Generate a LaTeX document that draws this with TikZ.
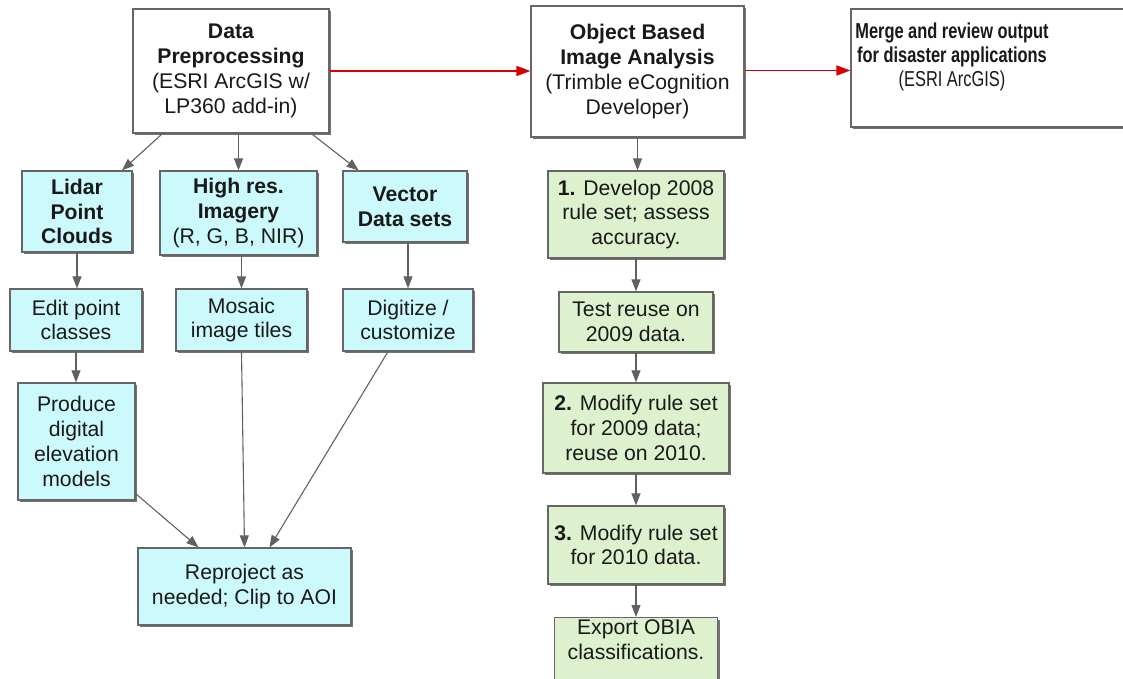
\documentclass[tikz,border=0pt]{standalone}
\usepackage{fontspec}
\setmainfont{Liberation Sans}
\newfontfamily\narrowfont[FakeStretch=0.76]{Liberation Sans}
\usetikzlibrary{arrows.meta,shadows,calc}

\definecolor{boxcyan}{RGB}{204,250,252}
\definecolor{boxgreen}{RGB}{221,241,207}
\definecolor{arrred}{RGB}{214,0,0}

\begin{document}
\begin{tikzpicture}[
  x=0.5pt, y=-0.5pt,
  box/.style={draw=black!60, line width=0.6pt, align=center, inner sep=1pt,
              font=\fontsize{10.6}{12.4}\selectfont, text=black!90, fill=#1,
              drop shadow={shadow xshift=1.1pt, shadow yshift=-1.1pt,
                           fill=black!55, opacity=1}},
  box/.default=white,
  arr/.style={-{Triangle[length=6pt, width=4.5pt]}, line width=0.55pt, draw=black!62},
  redarr/.style={-{Triangle[length=7pt, width=5pt]}, line width=0.8pt, draw=arrred}]
\useasboundingbox (0,0) rectangle (1123,679);
% top row
\node[box, minimum width=98pt, minimum height=62pt] (prep) at (231,71)
  {\textbf{Data}\\\textbf{Preprocessing}\\(ESRI ArcGIS w/\\LP360 add-in)};
\node[box, minimum width=106.5pt, minimum height=65.5pt] (obia) at (637.5,71.5)
  {\textbf{Object Based}\\\textbf{Image Analysis}\\(Trimble eCognition\\Developer)};
\node[box, minimum width=139.5pt, minimum height=59pt] (merge) at (990.5,68) {};
\node[align=center, font=\narrowfont\fontsize{10.8}{12.2}\selectfont, text=black!90] (mergetext) at (952,57)
  {\textbf{Merge and review output}\\\textbf{for disaster applications}\\(ESRI ArcGIS)};
% input data
\node[box=boxcyan, minimum width=55pt, minimum height=40.5pt] (lidar) at (77,211.5)
  {\textbf{Lidar}\\\textbf{Point}\\\textbf{Clouds}};
\node[box=boxcyan, minimum width=78.5pt, minimum height=42pt] (high) at (238.5,213)
  {\textbf{High res.}\\\textbf{Imagery}\\(R, G, B, NIR)};
\node[box=boxcyan, minimum width=62pt, minimum height=35.5pt] (vector) at (405,206.5)
  {\textbf{Vector}\\\textbf{Data sets}};
\node[box=boxcyan, minimum width=66pt, minimum height=31pt] (edit) at (76,320)
  {Edit point\\classes};
\node[box=boxcyan, minimum width=65.5pt, minimum height=31pt] (mosaic) at (241.5,320)
  {Mosaic\\image tiles};
\node[box=boxcyan, minimum width=65pt, minimum height=31pt] (digit) at (408,320)
  {Digitize /\\customize};
\node[box=boxcyan, minimum width=58.5pt, minimum height=58.5pt] (produce) at (76.5,441.5)
  {Produce\\digital\\elevation\\models};
\node[box=boxcyan, minimum width=106.5pt, minimum height=38.5pt] (reproj) at (244.5,586.5)
  {Reproject as\\needed; Clip to AOI};
% OBIA steps
\node[box=boxgreen, minimum width=88pt, minimum height=43.5pt] (g1) at (636,214.5)
  {\textbf{1.} Develop 2008\\rule set; assess\\accuracy.};
\node[box=boxgreen, minimum width=77pt, minimum height=30pt] (test) at (636,322)
  {Test reuse on\\2009 data.};
\node[box=boxgreen, minimum width=93pt, minimum height=45pt] (mod2) at (636,428)
  {\textbf{2.} Modify rule set\\for 2009 data;\\reuse on 2010.};
\node[box=boxgreen, minimum width=88pt, minimum height=39pt] (mod3) at (636,545)
  {\textbf{3.} Modify rule set\\for 2010 data.};
\node[box=boxgreen, minimum width=81.5pt, anchor=north] (export) at (636,617)
  {Export OBIA\\classifications.\\\mbox{}};
% connectors
\draw[redarr] (prep.east) -- (prep.east -| obia.west);
\draw[redarr] ([yshift=0.5pt]obia.east) -- ([yshift=0.5pt]obia.east -| merge.west);
\draw[arr] (prep) -- (lidar);
\draw[arr] (high.north |- prep.south) -- (high.north);
\draw[arr] (prep) -- (vector);
\draw[arr] (lidar.south) -- (lidar.south |- edit.north);
\draw[arr] (high.south -| mosaic) -- (mosaic);
\draw[arr] (vector.south -| digit) -- (digit);
\draw[arr] (edit.south) -- (edit.south |- produce.north);
\draw[arr] ($(produce.south east)+(0,-7)$) -- ($(reproj.north)+(-46,0)$);
\draw[arr] (mosaic.south) -- (reproj.north);
\draw[arr] ($(digit.south)+(-20,0)$) -- ($(reproj.north)+(25,0)$);
\draw[arr] (obia.south) -- (obia.south |- g1.north);
\foreach \a/\b in {g1/test, test/mod2, mod2/mod3, mod3/export}
  \draw[arr] (\a) -- (\b);
\end{tikzpicture}
\end{document}
